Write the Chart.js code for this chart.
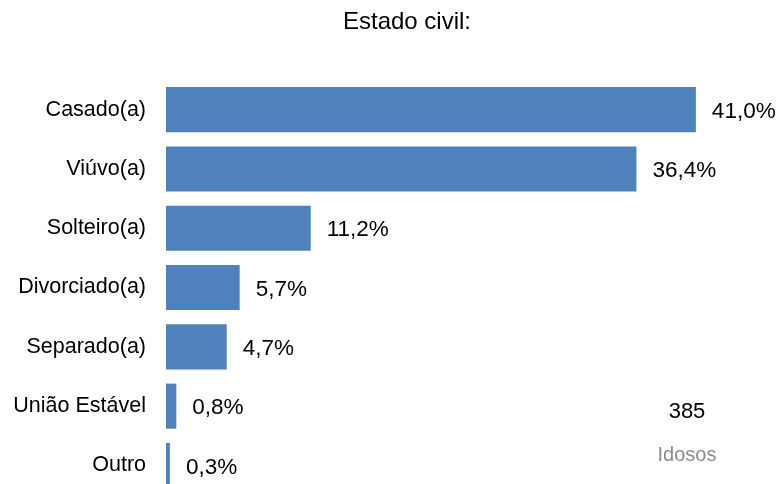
<!DOCTYPE html>
<html lang="pt">
<head>
    <meta charset="UTF-8">
    <title>Estado civil</title>
    <script src="https://cdn.jsdelivr.net/npm/chart.js@4.4.1/dist/chart.umd.min.js"></script>
    <style>
        html, body {
            margin: 0;
            padding: 0;
            background: #fff;
            overflow: hidden;
        }
        #wrap {
            position: relative;
            width: 782px;
            height: 520px;
        }
    </style>
</head>
<body>
    <div id="wrap"><canvas id="civil"></canvas></div>

    <script>
        const categories = ['Casado(a)', 'Viúvo(a)', 'Solteiro(a)', 'Divorciado(a)', 'Separado(a)', 'União Estável', 'Outro'];
        const percentages = [41.0, 36.4, 11.2, 5.7, 4.7, 0.8, 0.3];
        const chartTitle = 'Estado civil:';
        const totalCount = '385';
        const totalLabel = 'Idosos';

        const fontFamily = '"Liberation Sans", Arial, sans-serif';

        // value labels at the end of each bar, plus title and the total box
        const annotations = {
            id: 'annotations',
            afterDatasetsDraw(chart) {
                const ctx = chart.ctx;
                ctx.save();
                ctx.fillStyle = '#000';
                ctx.textBaseline = 'middle';
                ctx.textAlign = 'left';
                ctx.font = '22.5px ' + fontFamily;
                chart.getDatasetMeta(0).data.forEach((bar, i) => {
                    const txt = percentages[i].toFixed(1).replace('.', ',') + '%';
                    ctx.fillText(txt, bar.x + 16, bar.y + 2);
                });

                ctx.textAlign = 'center';
                ctx.font = '24px ' + fontFamily;
                ctx.fillText(chartTitle, 407, 22);

                ctx.font = '22px ' + fontFamily;
                ctx.fillText(totalCount, 687, 412);
                ctx.fillStyle = '#8c8c8c';
                ctx.font = '20px ' + fontFamily;
                ctx.fillText(totalLabel, 687, 455);
                ctx.restore();
            }
        };

        new Chart(document.getElementById('civil'), {
            type: 'bar',
            data: {
                labels: categories,
                datasets: [{
                    data: percentages,
                    backgroundColor: '#4F81BD',
                    barPercentage: 0.76,
                    categoryPercentage: 1.0
                }]
            },
            options: {
                indexAxis: 'y',
                responsive: true,
                maintainAspectRatio: false,
                animation: false,
                layout: {
                    padding: { top: 80, right: 6, bottom: 6, left: 0 }
                },
                plugins: {
                    legend: { display: false },
                    tooltip: { enabled: false }
                },
                scales: {
                    x: {
                        display: false,
                        min: 0,
                        max: 47.2
                    },
                    y: {
                        grid: { display: false },
                        border: { display: false },
                        ticks: {
                            color: '#000',
                            padding: 12,
                            font: { family: fontFamily, size: 21.5 }
                        },
                        afterFit(scale) {
                            scale.width = 166;
                        }
                    }
                }
            },
            plugins: [annotations]
        });
    </script>
</body>
</html>
